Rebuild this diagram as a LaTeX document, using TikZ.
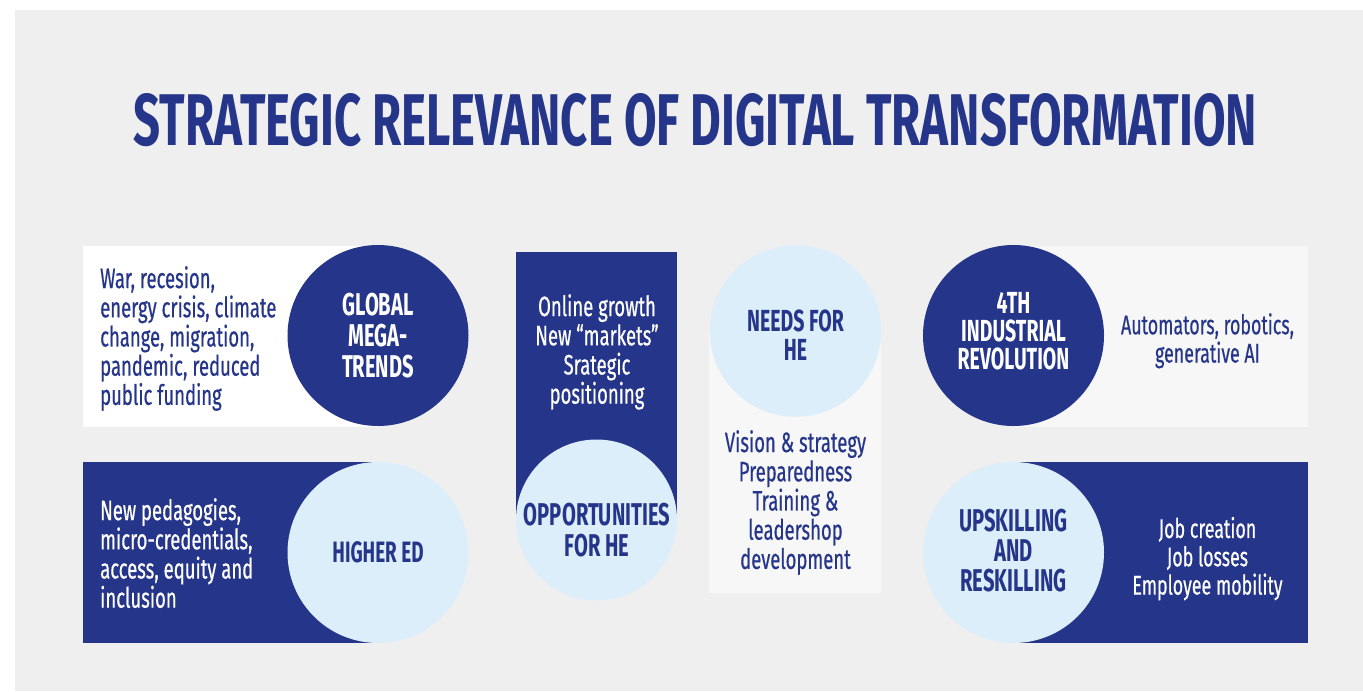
\documentclass[tikz,border=0pt]{standalone}
\usepackage{graphicx}
\usepackage{fontspec}
\newfontfamily\bodyf[FakeStretch=0.66,FakeBold=0.5]{Fira Sans}
\newfontfamily\headf[FakeStretch=0.64]{Fira Sans}
\newfontfamily\titlef[FakeStretch=0.6]{Fira Sans}
\definecolor{navy}{HTML}{25358A}
\definecolor{pale}{HTML}{DCEEFA}
\definecolor{bg}{HTML}{EFEFEF}
\definecolor{soft}{HTML}{F7F7F7}
\tikzset{
  disc/.style={circle, draw=none, inner sep=0pt},
  body/.style={font=\bodyf\fontsize{28}{29.2}\selectfont, inner sep=0pt},
  smallbody/.style={font=\bodyf\fontsize{27}{28.3}\selectfont, inner sep=0pt, align=center},
  head/.style={font=\headf\bfseries\fontsize{31.5}{31}\selectfont, inner sep=0pt, align=center},
}
\begin{document}
\begin{tikzpicture}[x=1pt,y=-1pt]
\useasboundingbox (0,0) rectangle (1363,691);
\fill[white] (0,0) rectangle (1363,691);
\fill[bg] (15,10) rectangle (1363,691);

\node[inner sep=0pt, text=navy] (title) at (695.5,120)
  {\resizebox{1123pt}{52pt}{\titlef\bfseries STRATEGIC RELEVANCE OF DIGITAL TRANSFORMATION}};

% panels
\fill[white] (83,246) rectangle (378,427);
\fill[navy] (83,462) rectangle (378,643);
\fill[navy] (516,252) rectangle (677,522);
\fill[soft] (709,331) rectangle (881,593);
\fill[soft] (1013,246) rectangle (1308,427);
\fill[navy] (1013,462) rectangle (1308,643);

% circles
\node[disc, fill=navy, minimum size=181pt] (cglobal) at (378,335.5) {};
\node[disc, fill=pale, minimum size=181pt] (chigher) at (378,552.5) {};
\node[disc, fill=pale, minimum size=161pt] (copp) at (596.5,520) {};
\node[disc, fill=pale, minimum size=171.5pt] (cneeds) at (795.5,331) {};
\node[disc, fill=navy, minimum size=181pt] (cind) at (1013.5,335.5) {};
\node[disc, fill=pale, minimum size=181pt] (cup) at (1013.5,552.5) {};

% texts
\node[body, text=navy, align=left, anchor=north west] (tglobal) at (100,266)
  {War, recesion,\\energy crisis, climate\\change, migration,\\pandemic, reduced\\public funding};
\node[head, text=white] (lglobal) at (cglobal) {GLOBAL\\MEGA-\\TRENDS};

\node[body, text=white, align=left, anchor=north west] (thigher) at (100,498)
  {New pedagogies,\\micro-credentials,\\access, equity and\\inclusion};
\node[head, text=navy, font=\headf\bfseries\fontsize{29.5}{30}\selectfont] (lhigher) at (378,552) {HIGHER ED};

\node[body, text=white, align=center, anchor=north] (topp) at (597,294)
  {Online growth\\New “markets”\\Srategic\\positioning};
\node[head, text=navy, font=\headf\bfseries\fontsize{31.5}{31.7}\selectfont] (lopp) at (597,530) {OPPORTUNITIES\\FOR HE};

\node[head, text=navy, font=\headf\bfseries\fontsize{30.5}{28.5}\selectfont] (lneeds) at (795.5,335) {NEEDS FOR\\HE};
\node[body, text=navy, align=center, anchor=north] (tneeds) at (795.5,430)
  {Vision \& strategy\\Preparedness\\Training \&\\leadershop\\development};

\node[head, text=white, font=\headf\bfseries\fontsize{30.5}{28.3}\selectfont] (lind) at (1013.5,331) {4TH\\INDUSTRIAL\\REVOLUTION};
\node[smallbody, text=navy, anchor=north] (tind) at (1207.5,313) {Automators, robotics,\\generative AI};

\node[head, text=navy, font=\headf\bfseries\fontsize{31.5}{30}\selectfont] (lup) at (1013.5,551) {UPSKILLING\\AND\\RESKILLING};
\node[smallbody, text=white, anchor=north] (tup) at (1207.5,516.7) {Job creation\\Job losses\\Employee mobility};
\end{tikzpicture}
\end{document}
